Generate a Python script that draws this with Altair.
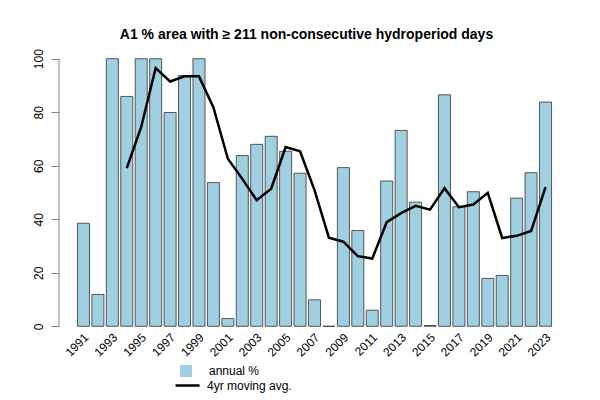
import altair as alt
import pandas as pd

years = list(range(1991, 2024))
annual = [38.5, 11.9, 100, 85.9, 100, 100, 79.9, 93.7, 100, 53.7,
          2.9, 63.8, 68.0, 71.0, 65.4, 57.2, 9.9, 0.0, 59.3, 35.8,
          6.0, 54.3, 73.2, 46.4, 0.3, 86.5, 44.7, 50.3, 17.9, 19.0,
          47.9, 57.4, 83.8]
ma_years = list(range(1994, 2024))
moving_avg = [59.1, 74.5, 96.5, 91.5, 93.4, 93.4, 81.8, 62.6, 55.1, 47.1,
              51.4, 67.0, 65.4, 50.9, 33.1, 31.6, 26.2, 25.3, 38.9, 42.3,
              45.0, 43.6, 51.6, 44.5, 45.5, 49.9, 33.0, 33.8, 35.6, 52.0]
label_years = [str(y) for y in range(1991, 2024, 2)]
y_ticks = [0, 20, 40, 60, 80, 100]

FONT = "Liberation Sans"
BLUE = "#9FCFE0"
AXIS_GREY = "#888888"

year_str = [str(y) for y in years]
bars_df = pd.DataFrame({"year": year_str, "value": annual, "series": "annual %"})
line_df = pd.DataFrame({"year": [str(y) for y in ma_years], "value": moving_avg,
                        "series": "4yr moving avg."})
axis_df = pd.DataFrame({"lo": [y_ticks[0]], "hi": [y_ticks[-1]]})

x_scale = alt.Scale(domain=year_str, paddingInner=1 / 6, paddingOuter=1)
y_scale = alt.Scale(domain=[-4, 104], nice=False, zero=False)

x_enc = alt.X("year:O", scale=x_scale,
              axis=alt.Axis(values=label_years, labelAngle=-45, labelAlign="right",
                            labelBaseline="middle", ticks=False, domain=False,
                            title=None, labelFont=FONT, labelFontSize=12,
                            labelColor="black", labelPadding=-2, labelOffset=3))
y_enc = alt.Y("value:Q", scale=y_scale,
              axis=alt.Axis(values=y_ticks, domain=False, grid=False, tickColor=AXIS_GREY,
                            tickSize=8, labelAngle=-90, labelAlign="center",
                            labelBaseline="bottom", labelPadding=6, title=None,
                            offset=4,
                            labelFont=FONT, labelFontSize=12, labelColor="black"))

bars = alt.Chart(bars_df).mark_bar(stroke="#333333", strokeWidth=0.8).encode(
    x=x_enc,
    y=y_enc,
    y2=alt.datum(0),
    fill=alt.Fill("series:N", scale=alt.Scale(domain=["annual %"], range=[BLUE]),
                  legend=alt.Legend(title=None, orient="none", legendX=117, legendY=317,
                                    symbolType="square", symbolSize=144,
                                    symbolStrokeWidth=0, labelFont=FONT,
                                    labelFontSize=12, labelOffset=17, padding=0)),
)

line = alt.Chart(line_df).mark_line(strokeWidth=2.5).encode(
    x=alt.X("year:O", scale=x_scale),
    y=alt.Y("value:Q", scale=y_scale),
    stroke=alt.Stroke("series:N",
                      scale=alt.Scale(domain=["4yr moving avg."], range=["black"]),
                      legend=alt.Legend(title=None, orient="none", legendX=111, legendY=324,
                                        symbolType="stroke", symbolSize=576,
                                        symbolStrokeWidth=2.5, labelFont=FONT,
                                        labelFontSize=12, labelOffset=6, padding=0)),
)

yaxis_line = alt.Chart(axis_df).mark_rule(color=AXIS_GREY, strokeWidth=1).encode(
    x=alt.value(-4),
    y=alt.Y("lo:Q", scale=y_scale),
    y2="hi:Q",
)

chart = alt.layer(bars, line, yaxis_line).resolve_scale(
    fill="independent", stroke="independent"
).properties(
    width=503,
    height=289,
    autosize="none",
    padding={"left": 63, "top": 48, "right": 34, "bottom": 63},
    title=alt.TitleParams(
        "A1 % area with \u2265 211 non-consecutive hydroperiod days",
        font=FONT, fontSize=14, fontWeight="bold", anchor="middle",
        frame="group", baseline="alphabetic", offset=10, dx=-8, dy=15, color="black",
    ),
).configure_view(stroke=None)

chart.save("out.html", embed_options={"renderer": "svg", "actions": False})
